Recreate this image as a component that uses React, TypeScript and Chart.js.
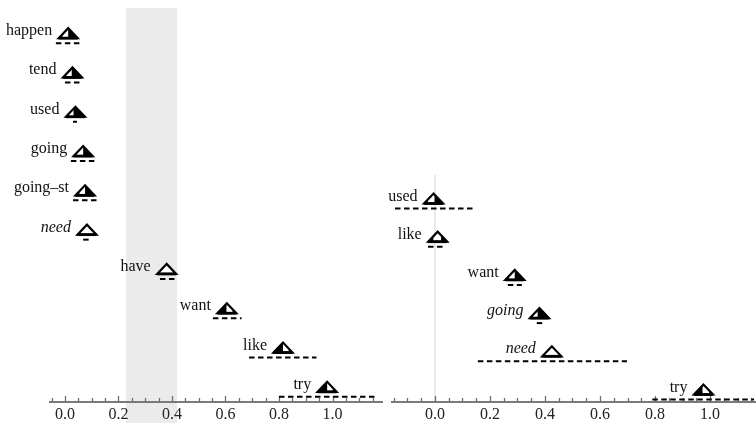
import { useEffect, useRef } from "react";
import { Chart, registerables } from "chart.js";
Chart.register(...registerables);

// ---------- data ----------
const leftVerbs = ["happen", "tend", "used", "going", "going–st", "need", "have", "want", "like", "try"];
const leftEst = [0.012, 0.028, 0.039, 0.068, 0.075, 0.082, 0.38, 0.605, 0.815, 0.98];
const leftLo = [-0.034, 0.0, 0.03, 0.022, 0.03, 0.068, 0.355, 0.553, 0.688, 0.8];
const leftHi = [0.06, 0.06, 0.045, 0.12, 0.124, 0.093, 0.41, 0.66, 0.94, 1.16];
const leftWhiteFrom = [0.19, 0.15, 0.15, 0.15, 0.2, 0, 0, 0.48, 0.5, 0.5];
const leftWhiteTo = [0.5, 0.46, 0.4, 0.5, 0.5, 1, 1, 0.8, 0.8, 0.8];
const leftItalic = [false, false, false, false, false, true, false, false, false, false];
const leftBand = [0.228, 0.419];

const rightVerbs = ["used", "like", "want", "going", "need", "try"];
const rightEst = [-0.005, 0.01, 0.29, 0.38, 0.425, 0.976];
const rightLo = [-0.145, -0.025, 0.265, 0.37, 0.156, 0.79];
const rightHi = [0.138, 0.036, 0.316, 0.39, 0.698, 1.16];
const rightWhiteFrom = [0.2, 0.27, 0.2, 0.15, 0, 0.45];
const rightWhiteTo = [0.55, 0.68, 0.5, 0.4, 1, 0.8];
const rightItalic = [false, false, false, true, true, false];
const rightRefLine = 0;

const tickLabels = ["0.0", "0.2", "0.4", "0.6", "0.8", "1.0"];
const majorTicks = [0, 0.2, 0.4, 0.6, 0.8, 1.0];

const FONT = '"Liberation Serif", "Times New Roman", serif';

function minorTicks(from: number, to: number) {
  const out: number[] = [];
  for (let k = Math.round(from / 0.05); k <= Math.round(to / 0.05); k++) out.push(+(k * 0.05).toFixed(2));
  return out;
}

function triPath(ctx: CanvasRenderingContext2D, x: number, top: number, base: number, hw: number) {
  ctx.beginPath();
  ctx.moveTo(x - hw, base);
  ctx.lineTo(x, top);
  ctx.lineTo(x + hw, base);
  ctx.closePath();
}

function drawTri(ctx: CanvasRenderingContext2D, x: number, y: number, wf: number, wt: number) {
  const hw = 9.5, top = y - 5.5, base = y + 4.5;
  ctx.save();
  triPath(ctx, x, top, base, hw);
  ctx.fillStyle = "#000";
  ctx.fill();
  ctx.clip();
  ctx.fillStyle = "#fff";
  ctx.fillRect(x - hw + wf * 2 * hw, top, (wt - wf) * 2 * hw, base - top);
  ctx.restore();
  ctx.save();
  triPath(ctx, x, top, base, hw);
  ctx.lineWidth = 2.2;
  ctx.lineJoin = "miter";
  ctx.strokeStyle = "#000";
  ctx.stroke();
  ctx.beginPath();
  ctx.moveTo(x - hw, base);
  ctx.lineTo(x + hw, base);
  ctx.lineWidth = 2.8;
  ctx.stroke();
  ctx.restore();
}

type Panel = {
  verbs: string[];
  est: number[];
  lo: number[];
  hi: number[];
  wf: number[];
  wt: number[];
  italic: boolean[];
  xmin: number;
  xmax: number;
  ymin: number;
  ymax: number;
  padLeft: number;
  padRight: number;
  band?: number[];
  refLine?: number;
};

function makeChart(canvas: HTMLCanvasElement, p: Panel) {
  const ticksArr = minorTicks(p.xmin, p.xmax).filter((v) => v >= p.xmin - 1e-9 && v <= p.xmax + 1e-9);
  const marks = {
    id: "marks",
    beforeDraw(chart: any) {
      const ctx = chart.ctx as CanvasRenderingContext2D;
      const xs = chart.scales.x;
      ctx.save();
      if (p.band) {
        const a = xs.getPixelForValue(p.band[0]);
        const b = xs.getPixelForValue(p.band[1]);
        ctx.fillStyle = "#ebebeb";
        ctx.fillRect(a, 8, b - a, 415);
      }
      if (p.refLine !== undefined) {
        const rx = xs.getPixelForValue(p.refLine);
        ctx.strokeStyle = "#e2e2e2";
        ctx.lineWidth = 1.5;
        ctx.beginPath();
        ctx.moveTo(rx, 175);
        ctx.lineTo(rx, chart.chartArea.bottom);
        ctx.stroke();
      }
      ctx.restore();
    },
    afterDraw(chart: any) {
      const ctx = chart.ctx as CanvasRenderingContext2D;
      const xs = chart.scales.x;
      const bottom = chart.chartArea.bottom;
      ctx.save();
      ctx.strokeStyle = "#6e6e6e";
      ctx.lineWidth = 1.3;
      ticksArr.forEach((v) => {
        const px = Math.round(xs.getPixelForValue(v)) + 0.5;
        const major = majorTicks.some((m) => Math.abs(m - v) < 1e-6);
        const len = major ? 6 : 4;
        ctx.beginPath();
        ctx.moveTo(px, bottom);
        ctx.lineTo(px, bottom - len);
        ctx.stroke();
      });
      const meta = chart.getDatasetMeta(0);
      p.verbs.forEach((name, i) => {
        const el = meta.data[i];
        const x = el.x;
        const y = el.y;
        const l = xs.getPixelForValue(p.lo[i]);
        const h = xs.getPixelForValue(p.hi[i]);
        ctx.save();
        ctx.strokeStyle = "#000";
        ctx.lineWidth = 2;
        ctx.setLineDash([5.5, 3.5]);
        ctx.beginPath();
        ctx.moveTo(l, y + 9.5);
        ctx.lineTo(h, y + 9.5);
        ctx.stroke();
        ctx.restore();
        drawTri(ctx, x, y, p.wf[i], p.wt[i]);
        ctx.fillStyle = "#111";
        ctx.font = (p.italic[i] ? "italic " : "") + "16px " + FONT;
        ctx.textAlign = "right";
        ctx.textBaseline = "alphabetic";
        ctx.fillText(name, x - 16, y + 1.5);
      });
      ctx.restore();
    },
  };

  return new Chart(canvas, {
    type: "scatter",
    data: {
      datasets: [
        {
          data: p.est.map((v, i) => ({ x: v, y: i })),
          pointRadius: 0,
          pointHoverRadius: 0,
          showLine: false,
        },
      ],
    },
    options: {
      animation: false,
      responsive: false,
      events: [],
      layout: { padding: { left: p.padLeft, right: p.padRight, top: 14, bottom: 0 } },
      plugins: { legend: { display: false }, tooltip: { enabled: false } },
      scales: {
        x: {
          type: "linear",
          min: p.xmin,
          max: p.xmax,
          afterBuildTicks: (s: any) => {
            s.ticks = ticksArr.map((v) => ({ value: v }));
          },
          afterFit: (s: any) => {
            s.height = 27;
          },
          grid: { display: false, drawTicks: false },
          border: { display: true, color: "#7a7a7a", width: 2 },
          ticks: {
            autoSkip: false,
            maxRotation: 0,
            padding: 3,
            color: "#222",
            font: { family: FONT, size: 16 },
            callback: (v: any) => {
              const idx = majorTicks.findIndex((m) => Math.abs(m - Number(v)) < 1e-6);
              return idx >= 0 ? tickLabels[idx] : "";
            },
          },
        },
        y: {
          type: "linear",
          display: false,
          reverse: true,
          min: p.ymin,
          max: p.ymax,
        },
      },
    },
    plugins: [marks],
  } as any);
}

export default function App() {
  const leftRef = useRef<HTMLCanvasElement>(null);
  const rightRef = useRef<HTMLCanvasElement>(null);
  useEffect(() => {
    const c1 = makeChart(leftRef.current!, {
      verbs: leftVerbs,
      est: leftEst,
      lo: leftLo,
      hi: leftHi,
      wf: leftWhiteFrom,
      wt: leftWhiteTo,
      italic: leftItalic,
      xmin: -0.056,
      xmax: 1.185,
      ymin: -0.5,
      ymax: 9.373,
      padLeft: 50,
      padRight: 6,
      band: leftBand,
    });
    const c2 = makeChart(rightRef.current!, {
      verbs: rightVerbs,
      est: rightEst,
      lo: rightLo,
      hi: rightHi,
      wf: rightWhiteFrom,
      wt: rightWhiteTo,
      italic: rightItalic,
      xmin: -0.156,
      xmax: 1.167,
      ymin: -4.843,
      ymax: 5.314,
      padLeft: 14,
      padRight: 0,
      refLine: rightRefLine,
    });
    return () => {
      c1.destroy();
      c2.destroy();
    };
  }, []);
  return (
    <div style={{ position: "absolute", left: 0, top: 0, width: 756, height: 429, background: "#fff" }}>
      <canvas ref={leftRef} width={388} height={429} style={{ position: "absolute", left: 0, top: 0 }} />
      <canvas ref={rightRef} width={378} height={429} style={{ position: "absolute", left: 378, top: 0 }} />
    </div>
  );
}
